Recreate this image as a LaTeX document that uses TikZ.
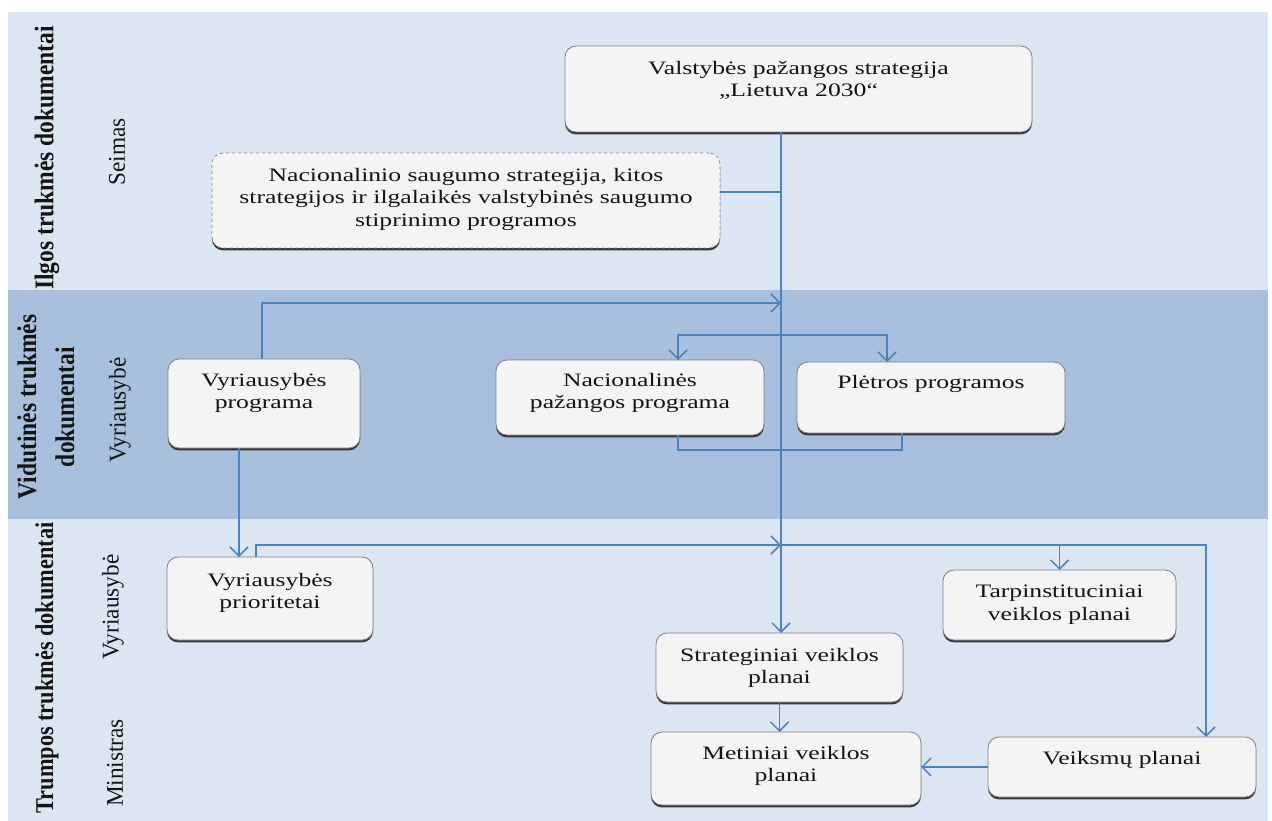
\documentclass[tikz,border=0pt]{standalone}
\usepackage{fontspec}
\setmainfont{Liberation Serif}[FakeStretch=1.35]
\newfontfamily\lblfont{Liberation Serif}[FakeStretch=0.87]
\newfontfamily\rolefont{Liberation Serif}[FakeStretch=0.97]
\usetikzlibrary{arrows.meta,shadows,calc}
\definecolor{bandlight}{HTML}{DCE6F2}
\definecolor{banddark}{HTML}{A8C0DE}
\definecolor{linkblue}{HTML}{4F81BD}
\definecolor{boxfill}{HTML}{F4F4F4}
\definecolor{txt}{HTML}{141414}
\newcommand{\myboxtext}[4]{\begin{minipage}[t][#2pt][t]{#1pt}\centering\vspace*{#3pt}#4\end{minipage}}
\tikzset{
  docbox/.style={draw=black!50, line width=0.8pt, fill=boxfill, rounded corners=11pt,
    inner sep=0pt, outer sep=0pt, anchor=north west, text=txt,
    font=\fontsize{19}{22.5}\selectfont,
    drop shadow={shadow xshift=0pt, shadow yshift=-2.4pt, fill=black!85, opacity=0.9}},
  dashbox/.style={docbox, dashed, draw=black!45},
  lbl/.style={rotate=90, text=txt, inner sep=0pt, align=center,
    font=\lblfont\bfseries\fontsize{27}{38}\selectfont},
  role/.style={rotate=90, text=txt, inner sep=0pt,
    font=\rolefont\fontsize{24}{28}\selectfont},
  conn/.style={draw=linkblue, line width=1.5pt},
  arr/.style={conn, -{Straight Barb[length=9pt,width=18pt,line width=1.5pt]}}
}
\begin{document}
\begin{tikzpicture}[x=1pt,y=-1pt]
\useasboundingbox (0,0) rectangle (1272,821);
\fill[white] (0,0) rectangle (1272,821);
% bands
\fill[bandlight] (8,12) rectangle (1268,290);
\fill[banddark] (8,290) rectangle (1268,519);
\fill[bandlight] (8,519) rectangle (1268,821);
% labels
\node[lbl] (l1) at (47,158) {Ilgos trukmės dokumentai};
\node[lbl] (l2) at (46,407) {Vidutinės trukmės\\dokumentai};
\node[lbl, scale=0.95] (l3) at (47,668) {Trumpos trukmės dokumentai};
\node[role] (r1) at (117,152) {Seimas};
\node[role] (r2) at (120,410) {Vyriausybė};
\node[role] (r3) at (113,607) {Vyriausybė};
\node[role] (r4) at (115,763) {Ministras};
% boxes
\node[docbox] (top) at (565,46) {\myboxtext{467}{86}{15}{Valstybės pažangos strategija\\„Lietuva 2030“}};
\node[dashbox] (nacsaug) at (212,153) {\myboxtext{508}{95}{15}{Nacionalinio saugumo strategija, kitos\\strategijos ir ilgalaikės valstybinės saugumo\\stiprinimo programos}};
\node[docbox] (vprog) at (168,359) {\myboxtext{192}{89}{14}{Vyriausybės\\programa}};
\node[docbox] (nacprog) at (496,360) {\myboxtext{268}{75}{13}{Nacionalinės\\pažangos programa}};
\node[docbox] (pletros) at (797,362) {\myboxtext{268}{71}{13}{Plėtros programos}};
\node[docbox] (vprior) at (167,557) {\myboxtext{206}{83}{16}{Vyriausybės\\prioritetai}};
\node[docbox] (tarp) at (943,570) {\myboxtext{233}{70}{15}{Tarpinstituciniai\\veiklos planai}};
\node[docbox] (strat) at (656,633) {\myboxtext{247}{69}{15}{Strateginiai veiklos\\planai}};
\node[docbox] (metin) at (651,732) {\myboxtext{270}{73}{14}{Metiniai veiklos\\planai}};
\node[docbox] (veiks) at (988,737) {\myboxtext{268}{60}{14}{Veiksmų planai}};
% connectors
\coordinate (mx) at (781,0);
\coordinate (j1) at (781,303);
\coordinate (j2) at (781,335);
\coordinate (j3) at (781,545);
\draw[arr] (top.south -| mx) -- (strat.north -| mx);
\draw[conn] ([yshift=8.5pt]nacsaug.east) -- ([yshift=8.5pt]nacsaug.east -| mx);
\draw[arr] ([xshift=-2pt]vprog.north) |- (j1);
\draw[arr] (j2) -| ([xshift=48pt]nacprog.north);
\draw[arr] (j2) -| ([xshift=-44pt]pletros.north);
\draw[conn] ([xshift=48pt]nacprog.south) -- ++(0,15) -| ([xshift=-29pt]pletros.south);
\coordinate (a1) at ([xshift=-31pt]vprior.north);
\draw[arr] (a1 |- vprog.south) -- (a1);
\draw[arr] ([xshift=-14pt]vprior.north) |- (j3);
\draw[arr] (j3) -| ([xshift=84pt]veiks.north);
\draw[arr] (tarp.north |- j3) -- (tarp.north);
\draw[arr] (strat.south) -- (strat.south |- metin.north);
\draw[arr] (veiks.west) -- (veiks.west -| metin.east);
\end{tikzpicture}
\end{document}
